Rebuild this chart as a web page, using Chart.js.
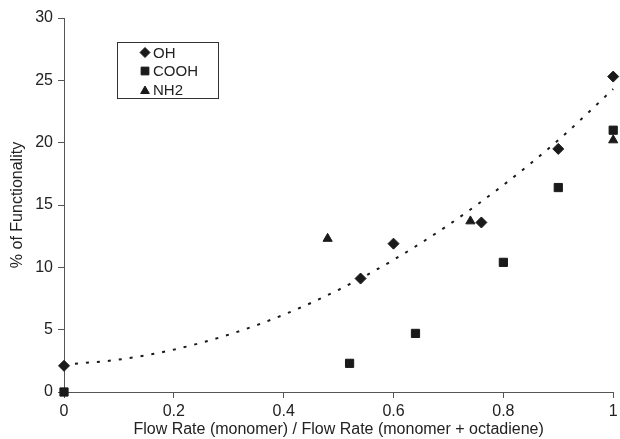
<!DOCTYPE html>
<html>
<head>
<meta charset="utf-8">
<script src="https://cdn.jsdelivr.net/npm/chart.js@4/dist/chart.umd.min.js"></script>
<style>
  html, body { margin: 0; padding: 0; background: #fff; }
  #wrap { width: 620px; height: 439px; position: relative; }
</style>
</head>
<body>
<div id="wrap"><canvas id="c" width="620" height="439"></canvas></div>
<script>
// ---- data ----
const ohX   = [0, 0.54, 0.60, 0.76, 0.90, 1.00];
const ohY   = [2.1, 9.1, 11.9, 13.6, 19.5, 25.3];
const coohX = [0, 0.52, 0.64, 0.80, 0.90, 1.00];
const coohY = [0.0, 2.3, 4.7, 10.4, 16.4, 21.0];
const nh2X  = [0.48, 0.74, 1.00];
const nh2Y  = [12.3, 13.7, 20.2];
// dotted trend curve
const trendX = [0, 0.1, 0.2, 0.3, 0.4, 0.5, 0.6, 0.7, 0.8, 0.9, 1.0];
const trendY = [2.2, 2.6, 3.4, 4.6, 6.2, 8.2, 10.6, 13.4, 16.6, 20.2, 24.3];
const seriesNames = ['OH', 'COOH', 'NH2'];
const xTickLabels = ['0', '0.2', '0.4', '0.6', '0.8', '1'];
const yTickLabels = ['0', '5', '10', '15', '20', '25', '30'];
const xTitle = 'Flow Rate (monomer) / Flow Rate (monomer + octadiene)';
const yTitle = '% of Functionality';

const pts = (xs, ys) => xs.map((x, i) => ({ x: x, y: ys[i] }));
const INK = '#1a1a1a';
const FONT = "'Liberation Sans', Arial, sans-serif";

const legendBox = {
  id: 'legendBox',
  afterDraw(chart) {
    const ctx = chart.ctx;
    ctx.save();
    ctx.strokeStyle = '#333';
    ctx.lineWidth = 1;
    ctx.strokeRect(117.5, 42.5, 101, 56);
    const styles = ['rectRot', 'rect', 'triangle'];
    const radii = [5, 5.5, 5];
    ctx.font = '15px ' + FONT;
    ctx.textBaseline = 'middle';
    const ys = [52.5, 71, 89.5];
    for (let i = 0; i < 3; i++) {
      ctx.fillStyle = INK;
      ctx.strokeStyle = INK;
      Chart.helpers.drawPoint(ctx, { pointStyle: styles[i], radius: radii[i], borderWidth: 1, rotation: 0 }, 145, ys[i] + (i === 2 ? 1.5 : 0));
      ctx.fillStyle = '#222';
      ctx.fillText(seriesNames[i], 153, ys[i] + 1);
    }
    ctx.restore();
  }
};

new Chart(document.getElementById('c'), {
  type: 'scatter',
  data: {
    datasets: [
      { label: 'trend', type: 'line', data: pts(trendX, trendY), borderColor: INK, borderWidth: 2,
        borderDash: [3, 8], pointRadius: 0, tension: 0.4, cubicInterpolationMode: 'monotone', fill: false, order: 2, clip: false },
      { label: seriesNames[0], data: pts(ohX, ohY), pointStyle: 'rectRot', pointRadius: 5.5,
        backgroundColor: INK, borderColor: INK, borderWidth: 1, order: 1, clip: false },
      { label: seriesNames[1], data: pts(coohX, coohY), pointStyle: 'rect', pointRadius: 5.8,
        backgroundColor: INK, borderColor: INK, borderWidth: 1, order: 1, clip: false },
      { label: seriesNames[2], data: pts(nh2X, nh2Y), pointStyle: 'triangle', pointRadius: 5.3,
        backgroundColor: INK, borderColor: INK, borderWidth: 1, order: 1, clip: false }
    ]
  },
  options: {
    responsive: false,
    animation: false,
    events: [],
    layout: { padding: { top: 18, right: 6, bottom: 0, left: 8 } },
    plugins: { legend: { display: false }, tooltip: { enabled: false } },
    scales: {
      x: {
        type: 'linear', min: 0, max: 1,
        afterFit(s) { s.height = 47; s.paddingRight = 0; s.paddingLeft = 0; },
        ticks: { stepSize: 0.2, color: '#222', font: { family: FONT, size: 16 }, padding: 4,
          callback: (v, i) => xTickLabels[i] },
        grid: { drawOnChartArea: false, drawTicks: true, tickLength: 6, color: '#555' },
        border: { color: '#555', width: 1 },
        title: { display: true, text: xTitle, color: '#222', font: { family: FONT, size: 16 }, padding: { top: 0, bottom: 0 } }
      },
      y: {
        type: 'linear', min: 0, max: 30,
        afterFit(s) { s.width = 56; s.paddingTop = 0; s.paddingBottom = 0; },
        ticks: { stepSize: 5, color: '#222', font: { family: FONT, size: 16 }, padding: 5,
          callback: (v, i) => yTickLabels[i] },
        grid: { drawOnChartArea: false, drawTicks: true, tickLength: 6, color: '#555' },
        border: { color: '#555', width: 1 },
        title: { display: true, text: yTitle, color: '#222', font: { family: FONT, size: 16 }, padding: { top: 0, bottom: 0 } }
      }
    }
  },
  plugins: [legendBox]
});
</script>
</body>
</html>
